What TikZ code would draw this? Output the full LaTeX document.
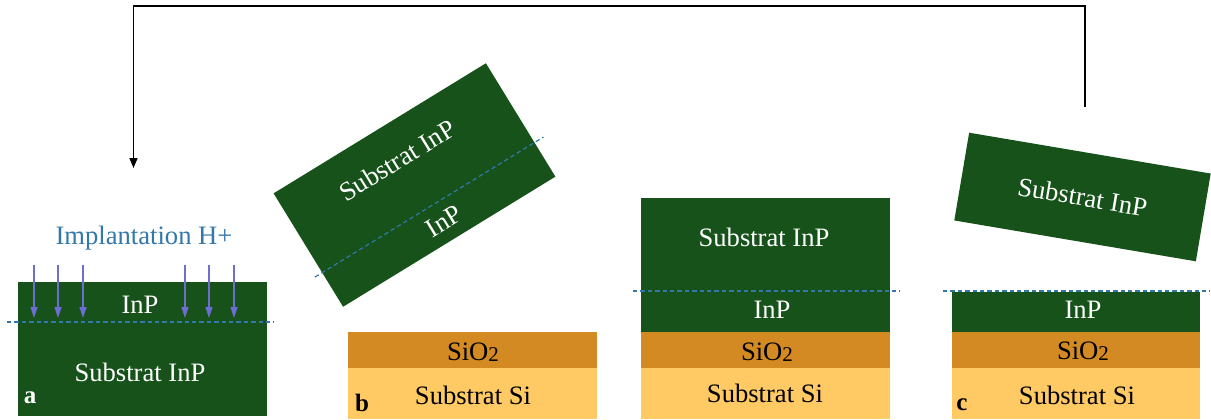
\documentclass[tikz,border=0pt]{standalone}
\usepackage{fontspec}
\setmainfont{Liberation Serif}
\newfontfamily\layerfont{Liberation Serif}
\usetikzlibrary{arrows.meta}
\definecolor{inpgreen}{RGB}{22,82,26}
\definecolor{oxide}{RGB}{212,138,34}
\definecolor{silicon}{RGB}{255,202,100}
\definecolor{cutline}{RGB}{50,120,170}
\definecolor{proton}{RGB}{110,110,210}
\newcommand{\sioxyde}{SiO\raisebox{-0.6pt}{\fontsize{10.5}{12}\selectfont 2}}
\begin{document}
\begin{tikzpicture}[x=0.5pt, y=0.5pt,
    every node/.style={font=\layerfont\fontsize{13.3}{15}\selectfont, inner sep=0pt},
    ontop/.style={text=white},
    cut/.style={cutline, line width=0.6pt, dash pattern=on 2.2pt off 1.5pt},
    tag/.style={font=\layerfont\fontsize{12.5}{14}\selectfont\bfseries}]
  \useasboundingbox (0,0) rectangle (1211,419);

  % a: implanted InP wafer
  \fill[inpgreen] (18,3) rectangle (267,137);
  \draw[cut] (7,97) -- (274,97);
  \foreach \x in {34,58,83,185,209,234}{
    \draw[proton, line width=0.6pt, -{Triangle[length=5.5pt,width=3.5pt]}] (\x,154) -- (\x,101);
  }
  \node[text=cutline] (implant) at (144,181) {Implantation H+};
  \node[ontop] (inpA) at (140,114) {InP};
  \node[ontop] (subA) at (140,47) {Substrat InP};
  \node[ontop, tag] (tagA) at (30,21) {a};

  % b: flipped wafer above the oxidised Si
  \begin{scope}[shift={(414.5,234)}, rotate=31.5]
    \fill[inpgreen] (-124.5,-66.5) rectangle (124.5,66.5);
    \draw[cut] (-133,-26.5) -- (135,-26.5);
    \node[ontop, rotate=31.5] (subB) at (-2,30) {Substrat InP};
    \node[ontop, rotate=31.5] (inpB) at (6,-46) {InP};
  \end{scope}
  \fill[oxide] (348,51) rectangle (597,87);
  \fill[silicon] (348,0) rectangle (597,51);
  \node (oxB) at (473,67) {\sioxyde};
  \node (siB) at (473,24) {Substrat Si};
  \node[tag] (tagB) at (362,16) {b};

  % bonded stack
  \fill[inpgreen] (641,87) rectangle (890,221);
  \fill[oxide] (641,51) rectangle (890,87);
  \fill[silicon] (641,0) rectangle (890,51);
  \draw[cut] (633,128) -- (900,128);
  \node[ontop] (subM) at (764,182) {Substrat InP};
  \node[ontop] (inpM) at (772,109) {InP};
  \node (oxM) at (767,67) {\sioxyde};
  \node (siM) at (765,26) {Substrat Si};

  % c: split, InP layer left on Si
  \begin{scope}[shift={(1082.5,222)}, rotate=-9.6]
    \fill[inpgreen] (-122.5,-44.5) rectangle (122.5,44.5);
    \node[ontop, rotate=-9.6] (subC) at (0,0) {Substrat InP};
  \end{scope}
  \fill[inpgreen] (952,87) rectangle (1200,127);
  \fill[oxide] (952,51) rectangle (1200,87);
  \fill[silicon] (952,0) rectangle (1200,51);
  \draw[cut] (943,128) -- (1210,128);
  \node[ontop] (inpC) at (1083,109) {InP};
  \node (oxC) at (1083,68) {\sioxyde};
  \node (siC) at (1077,24) {Substrat Si};
  \node[tag] (tagC) at (962,14) {c};

  % recycling of the substrate
  \coordinate (reuse) at (1085,312);
  \coordinate (back) at (133.5,251);
  \draw[line width=0.8pt, -{Triangle[length=5pt,width=4pt]}] (reuse) -- ++(0,101) -| (back);
\end{tikzpicture}
\end{document}
